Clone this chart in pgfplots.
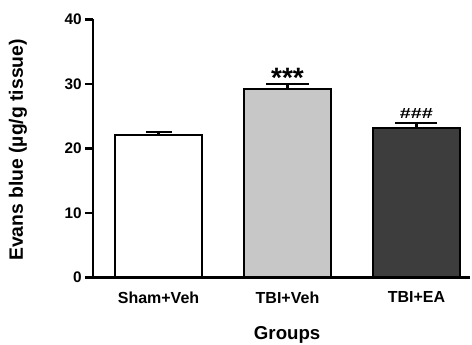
\documentclass[border=0pt]{standalone}
\usepackage{fontspec}
\setmainfont{Liberation Sans}
\usepackage{pgfplots}
\pgfplotsset{compat=1.18}
\usepackage{graphicx}
\begin{document}
\begin{tikzpicture}
\begin{axis}[
  at={(0,0)}, anchor=south west,
  scale only axis,
  width=282.75pt, height=193.5pt,
  xmin=-0.508, xmax=2.415,
  ymin=0, ymax=40,
  axis lines=left,
  axis line style={line width=1.7pt, -},
  ytick={0,10,20,30,40},
  xtick={0,1,2},
  xticklabels={Sham+Veh, TBI+Veh, TBI+EA},
  x tick style={draw=none},
  y tick style={line width=1.7pt, black},
  tick align=outside,
  major tick length=6pt,
  /pgf/number format/assume math mode=true,
  yticklabel style={font=\fontsize{11.5}{13}\selectfont\bfseries, xshift=1pt},
  xticklabel style={font=\fontsize{12}{14}\selectfont\bfseries, yshift=-1pt},
  ylabel={Evans blue (µg/g tissue)},
  ylabel style={at={(axis description cs:-0.199,0.494)}, anchor=center, rotate=0, font=\fontsize{14.5}{16}\selectfont\bfseries},
  xlabel={Groups},
  xlabel style={at={(axis description cs:0.515,-0.222)}, anchor=center, font=\fontsize{14}{16}\selectfont\bfseries},
  ybar,
  bar width=0.674,
  clip=false,
]
\addplot[bar shift=0pt, draw=black, line width=1.7pt, fill=white,
  error bars/.cd, y dir=plus, y explicit,
  error bar style={line width=1.7pt, black},
  error mark options={rotate=90, mark size=9.75pt, line width=1.7pt, black}]
  coordinates {(0,22.1) +- (0,0.5)};
\addplot[bar shift=0pt, draw=black, line width=1.7pt, fill=black!22,
  error bars/.cd, y dir=plus, y explicit,
  error bar style={line width=1.7pt, black},
  error mark options={rotate=90, mark size=16pt, line width=1.7pt, black}]
  coordinates {(1,29.2) +- (0,0.75)};
\addplot[bar shift=0pt, draw=black, line width=1.7pt, fill=black!76,
  error bars/.cd, y dir=plus, y explicit,
  error bar style={line width=1.7pt, black},
  error mark options={rotate=90, mark size=15.75pt, line width=1.7pt, black}]
  coordinates {(2,23.2) +- (0,0.7)};
\node[font=\fontsize{21}{22}\selectfont\bfseries] at (axis cs:1,30.9) {***};
\node[font=\fontsize{11}{12}\selectfont\bfseries] at (axis cs:2,25.5) {\scalebox{1.35}[1]{\#\#\#}};
\end{axis}
\pgfresetboundingbox
\useasboundingbox (-69.75pt,-50.625pt) rectangle (284.25pt,208.125pt);
\end{tikzpicture}
\end{document}
